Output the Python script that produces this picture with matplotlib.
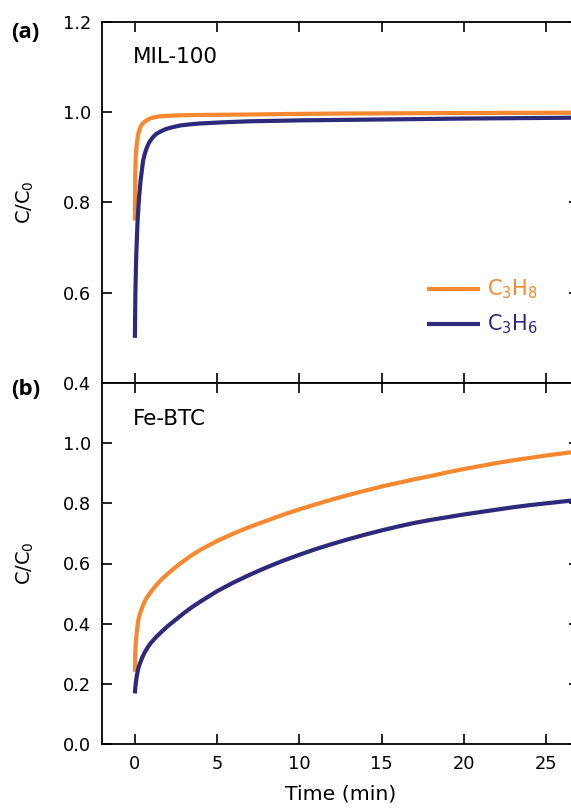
import matplotlib
matplotlib.use("Agg")
import matplotlib.pyplot as plt

plt.rcParams['font.family'] = ['DejaVu Sans']

# Breakthrough curves: MIL-100
mil_c3h8_t = [0, 0.02, 0.05, 0.1, 0.15, 0.2, 0.3, 0.4, 0.5, 0.6, 0.75, 0.9, 1.2, 1.5, 2.0, 2.5, 3, 4, 5.5, 7, 9, 12, 15, 18, 22, 27]
mil_c3h8_c = [0.76, 0.86, 0.90, 0.925, 0.94, 0.952, 0.964, 0.971, 0.976, 0.979, 0.983, 0.986, 0.989, 0.991, 0.992,
              0.993, 0.9935, 0.994, 0.9945, 0.995, 0.996, 0.997, 0.9975, 0.998, 0.9985, 0.999]
mil_c3h6_t = [0, 0.03, 0.08, 0.15, 0.25, 0.35, 0.5, 0.6, 0.7, 0.8, 0.9, 1.1, 1.3, 1.6, 1.9, 2.3, 2.8, 3.3, 3.9,
              5.5, 7, 10, 15, 20, 27]
mil_c3h6_c = [0.50, 0.60, 0.68, 0.75, 0.81, 0.85, 0.893, 0.908, 0.919, 0.928, 0.935, 0.945, 0.952, 0.958, 0.963,
              0.967, 0.971, 0.973, 0.975, 0.978, 0.980, 0.982, 0.984, 0.986, 0.988]

# Breakthrough curves: Fe-BTC
fe_t = [0, 0.02, 0.05, 0.1, 0.2, 0.3, 0.45, 0.6, 0.8, 1.0, 1.3, 1.6, 2.0, 2.5, 3.0, 3.5, 4, 5, 6, 7, 8, 9,
        10, 11, 12, 13, 14, 15, 16, 17, 18, 19, 20, 21, 22, 23, 24, 25, 26, 27]
fe_c3h8_c = [0.24, 0.30, 0.335, 0.366, 0.41, 0.432, 0.455, 0.475, 0.493, 0.508, 0.528, 0.546, 0.566, 0.589,
             0.61, 0.629, 0.646, 0.675, 0.70, 0.722, 0.742, 0.762, 0.78, 0.797, 0.813, 0.828, 0.842, 0.856,
             0.868, 0.88, 0.891, 0.903, 0.914, 0.924, 0.934, 0.943, 0.951, 0.959, 0.966, 0.973]
fe_c3h6_c = [0.168, 0.185, 0.20, 0.222, 0.25, 0.267, 0.288, 0.305, 0.323, 0.338, 0.356, 0.372, 0.392, 0.414,
             0.436, 0.456, 0.474, 0.508, 0.537, 0.563, 0.587, 0.609, 0.629, 0.648, 0.665, 0.681, 0.696, 0.71,
             0.723, 0.735, 0.745, 0.754, 0.763, 0.771, 0.779, 0.787, 0.794, 0.80, 0.806, 0.812]

x_ticks = [0, 5, 10, 15, 20, 25]
top_yticks = [0.4, 0.6, 0.8, 1.0, 1.2]
bot_yticks = [0.0, 0.2, 0.4, 0.6, 0.8, 1.0]

ORANGE = '#F7882F'
NAVY = '#2D2A7B'
LW = 3.0

W, H = 571, 810
fig = plt.figure(figsize=(W / 100, H / 100), dpi=100)


def frac_box(left, top, right, bottom):
    return [left / W, 1 - bottom / H, (right - left) / W, (bottom - top) / H]


ax_a = fig.add_axes(frac_box(102, 22, 579, 383))
ax_b = fig.add_axes(frac_box(102, 383, 579, 744))

for ax in (ax_a, ax_b):
    ax.set_xlim(-2, 27)
    ax.set_xticks(x_ticks)
    ax.tick_params(direction='in', length=7, width=1.2, top=True, right=True,
                   labelsize=12.8, pad=8, colors='black')
    for sp in ax.spines.values():
        sp.set_linewidth(1.3)

ax_a.plot(mil_c3h8_t, mil_c3h8_c, color=ORANGE, lw=LW, solid_capstyle='butt')
ax_a.plot(mil_c3h6_t, mil_c3h6_c, color=NAVY, lw=LW, solid_capstyle='butt')
ax_a.set_ylim(0.4, 1.2)
ax_a.set_yticks(top_yticks)
ax_a.set_yticklabels([f"{v:.1f}" for v in top_yticks])
ax_a.tick_params(labelbottom=False)
ax_a.set_ylabel(r'C/C$_0$', fontsize=14)
ax_a.yaxis.set_label_coords(-0.138, 0.5)
ax_a.text(133 / W, 1 - 57 / H, 'MIL-100', transform=fig.transFigure, fontsize=15.5,
          va='center', ha='left')

ax_b.plot(fe_t, fe_c3h8_c, color=ORANGE, lw=LW, solid_capstyle='butt')
ax_b.plot(fe_t, fe_c3h6_c, color=NAVY, lw=LW, solid_capstyle='butt')
ax_b.set_ylim(0.0, 1.2)
ax_b.set_yticks(bot_yticks)
ax_b.set_yticklabels([f"{v:.1f}" for v in bot_yticks])
ax_b.set_xlabel('Time (min)', fontsize=14.7, labelpad=8)
ax_b.set_ylabel(r'C/C$_0$', fontsize=14)
ax_b.yaxis.set_label_coords(-0.138, 0.5)
ax_b.text(133 / W, 1 - 419 / H, 'Fe-BTC', transform=fig.transFigure, fontsize=15.5,
          va='center', ha='left')

# Legend drawn inside panel (a)
for y_px, col, label in [(289, ORANGE, r'C$_3$H$_8$'), (324, NAVY, r'C$_3$H$_6$')]:
    yf = 1 - y_px / H
    fig.add_artist(plt.Line2D([427 / W, 480 / W], [yf, yf], color=col, lw=LW,
                              transform=fig.transFigure, solid_capstyle='butt'))
    fig.text(487 / W, yf, label, color=col, fontsize=15, va='center', ha='left')

# Panel letters
fig.text(11 / W, 1 - 32 / H, '(a)', fontsize=16, fontweight='bold', va='center',
         ha='left', family=['Open Sans', 'DejaVu Sans'])
fig.text(11 / W, 1 - 390 / H, '(b)', fontsize=16, fontweight='bold', va='center',
         ha='left', family=['Open Sans', 'DejaVu Sans'])

fig.savefig('out.png', dpi=100)
